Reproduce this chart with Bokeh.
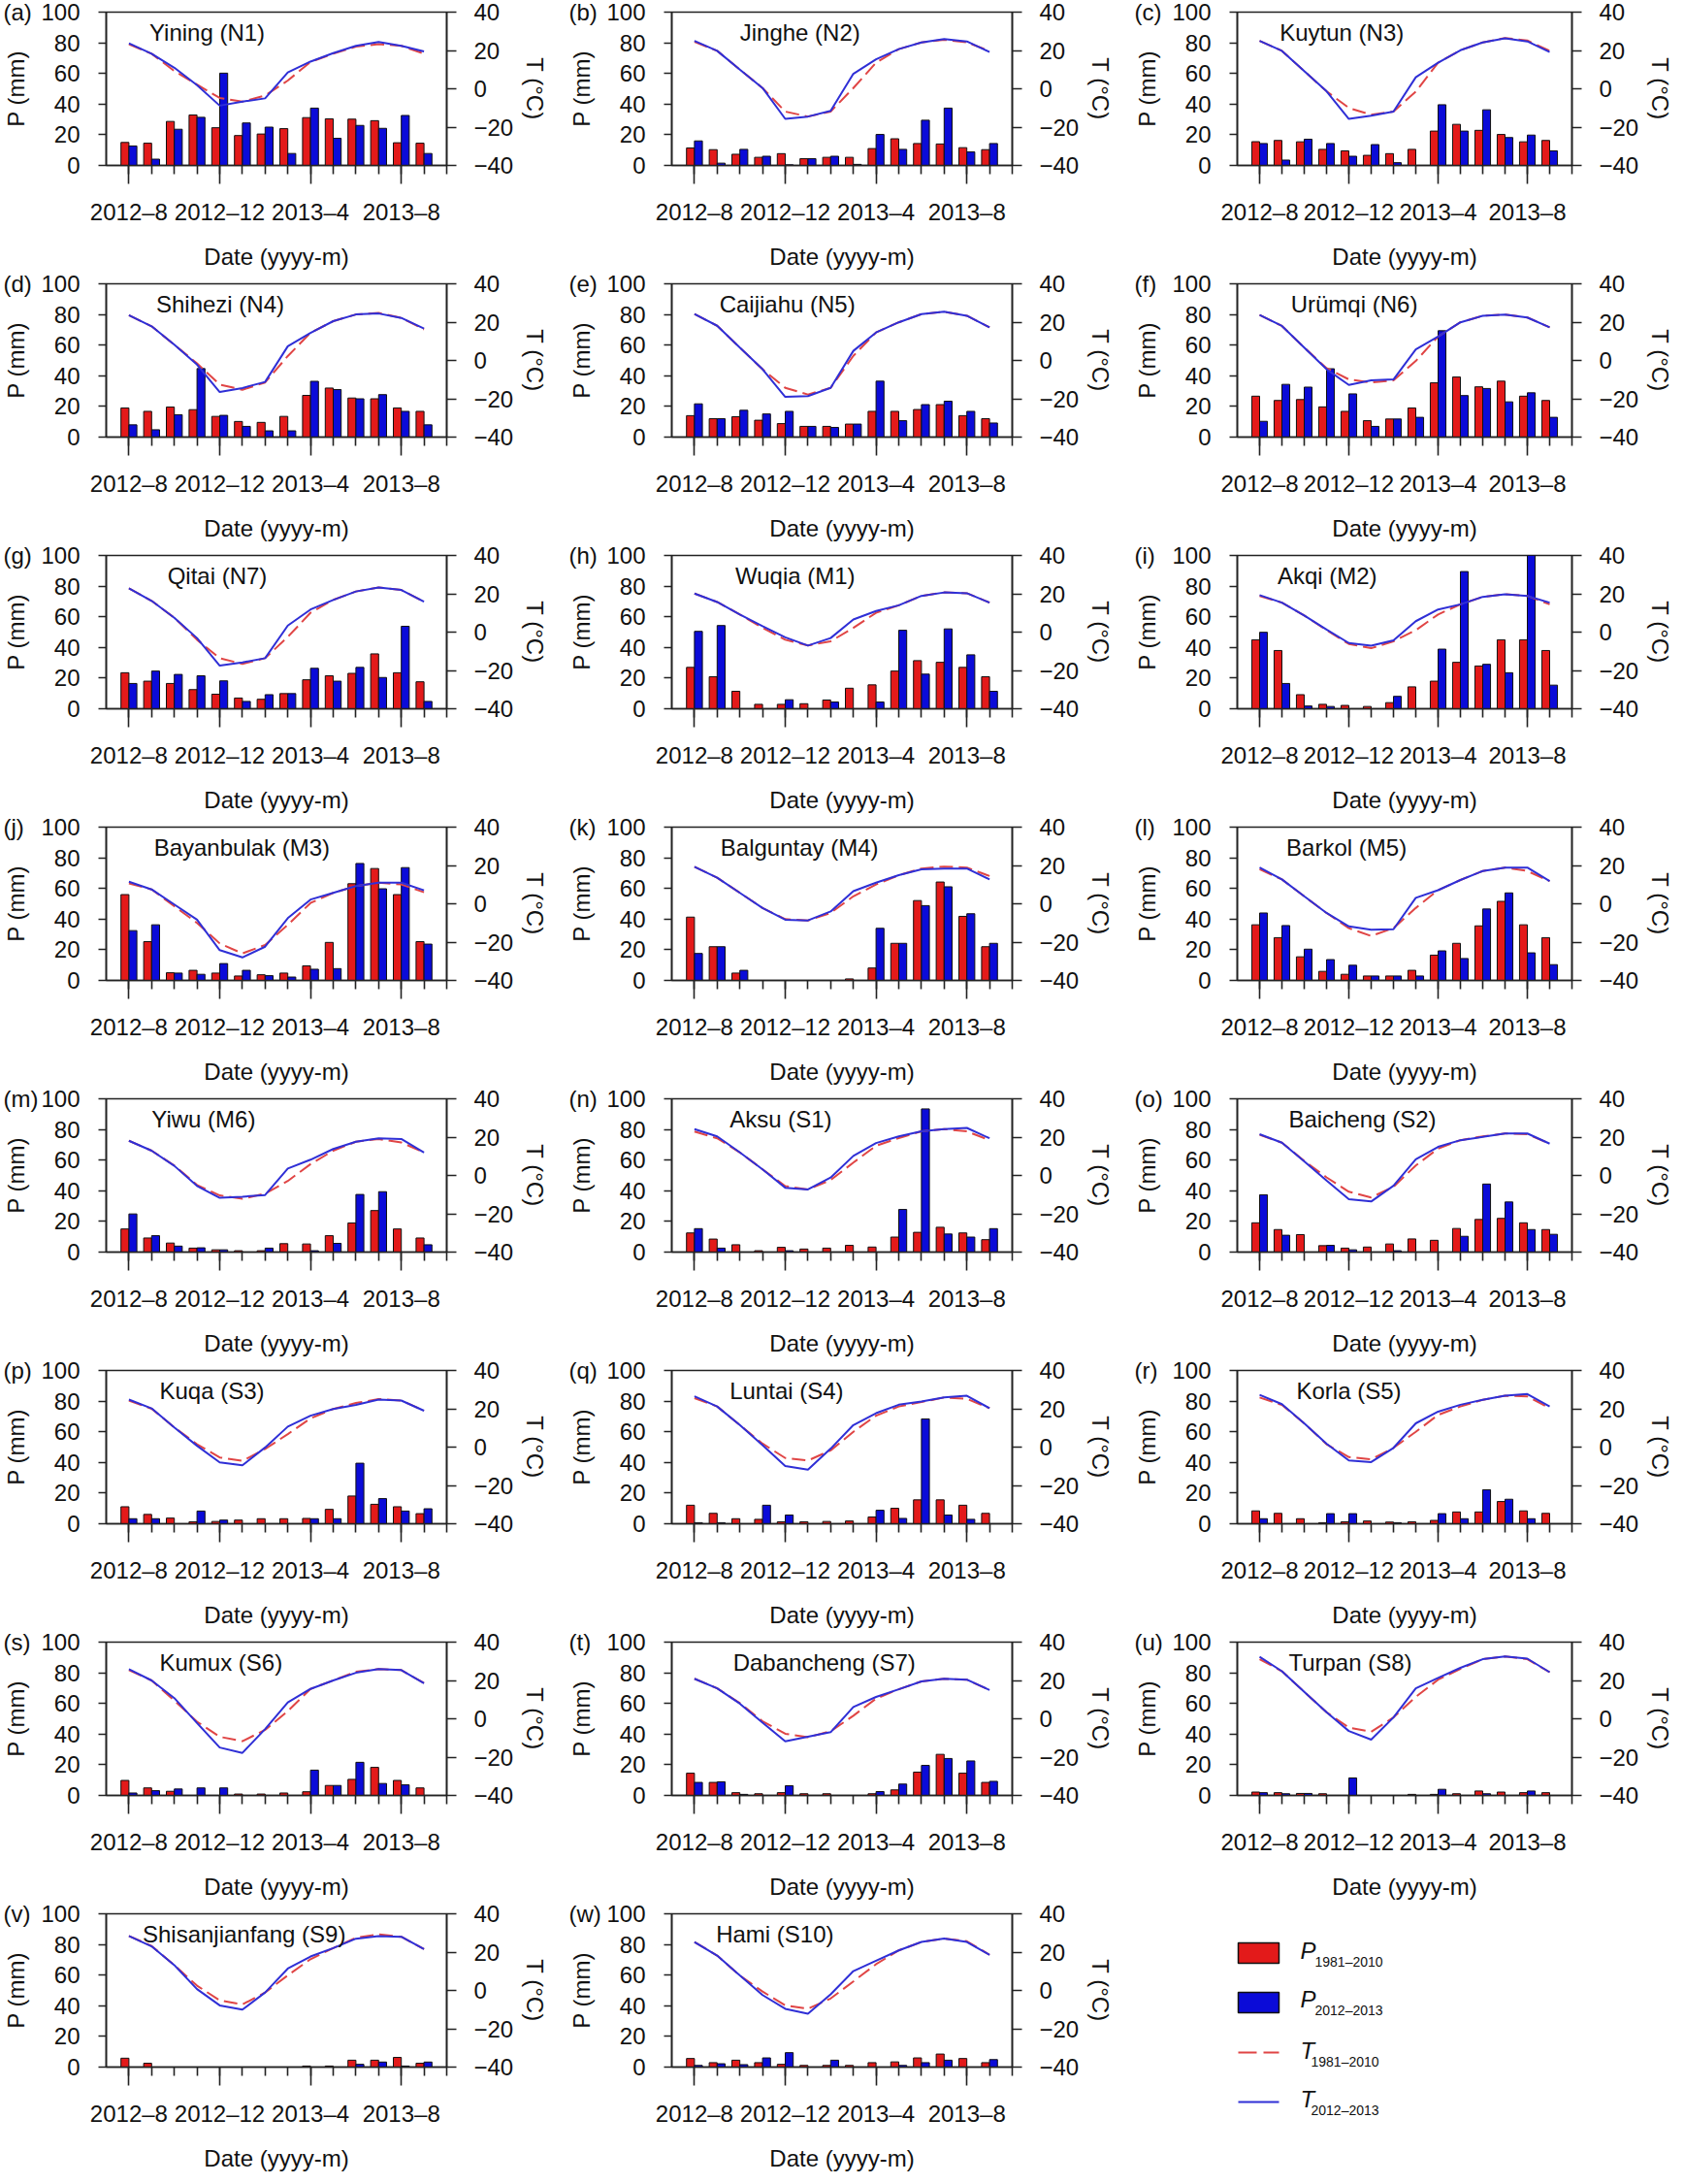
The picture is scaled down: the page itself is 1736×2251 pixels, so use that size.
import math
from bokeh.plotting import figure
from bokeh.models import Range1d, LinearAxis, FixedTicker, ColumnDataSource, Label, Title
from bokeh.layouts import column, row
from bokeh.transform import dodge
from bokeh.embed import file_html
from bokeh.resources import INLINE

# ---------------- data ----------------
STATIONS = ["Yining (N1)", "Jinghe (N2)", "Kuytun (N3)", "Shihezi (N4)", "Caijiahu (N5)",
            "Urümqi (N6)", "Qitai (N7)", "Wuqia (M1)", "Akqi (M2)", "Bayanbulak (M3)",
            "Balguntay (M4)", "Barkol (M5)", "Yiwu (M6)", "Aksu (S1)", "Baicheng (S2)",
            "Kuqa (S3)", "Luntai (S4)", "Korla (S5)", "Kumux (S6)", "Dabancheng (S7)",
            "Turpan (S8)", "Shisanjianfang (S9)", "Hami (S10)"]
LETTERS = list("abcdefghijklmnopqrstuvw")
MONTHS = list(range(14))            # 2012-8 ... 2013-9
TICK_POS = [0, 4, 8, 12]
TICK_LABELS = ["2012–8", "2012–12", "2013–4", "2013–8"]
LEGEND_NAMES = [("P", "1981–2010"), ("P", "2012–2013"), ("T", "1981–2010"), ("T", "2012–2013")]

P_1981 = [
    [15, 14.5, 28.7, 32.9, 24.6, 19.5, 20.5, 24, 31.2, 30.4, 30.2, 29.2, 14.8, 14.5],
    [11.4, 10.3, 7.3, 5.3, 7.7, 4.4, 5.3, 5.3, 11, 17.4, 14.3, 14, 11.6, 10.3],
    [15.5, 16.3, 15.4, 10.5, 9.5, 6.6, 7.7, 10.5, 22.4, 26.8, 22.9, 20.2, 15.4, 16.3],
    [19, 16.8, 19.6, 17.9, 13.5, 10.2, 9.6, 13.5, 27.2, 32, 25.5, 25, 19, 16.8],
    [14, 12, 13.3, 11, 8.8, 7, 7, 8.5, 16.8, 16.8, 18, 21.2, 14, 12],
    [26.7, 23.9, 24.5, 19.7, 16.8, 10.7, 11.8, 19, 35.4, 39.2, 32.8, 36.5, 26.7, 23.9],
    [23.5, 18, 16.5, 12.5, 9.5, 7, 6.2, 9.9, 18.9, 21.5, 23.1, 35.8, 23.5, 17.6],
    [27, 20.9, 11.4, 2.9, 2.9, 3.3, 5.7, 13.4, 15.6, 24.6, 31.4, 30.3, 27, 20.9],
    [45, 38, 9.2, 2.9, 2.2, 1.5, 4, 14.3, 18, 30.3, 27.9, 45, 45, 38],
    [56, 25.3, 5, 6.6, 4.8, 2.9, 3.7, 4.8, 9.5, 24.8, 63.1, 73, 56, 25.3],
    [41.3, 22, 4.8, 0, 0, 0, 0, 1, 8.1, 24.2, 52.1, 64.2, 41.8, 22],
    [36.3, 27.9, 15.4, 5.9, 4, 2.9, 2.9, 6.6, 16.5, 24.2, 35.6, 51.6, 36.3, 27.9],
    [15.1, 9.2, 5.9, 2.6, 1.5, 0.9, 0.9, 5.5, 5.3, 10.7, 19, 27.1, 15.1, 9.2],
    [12.5, 8.5, 4.8, 0.9, 3.1, 2, 2.6, 4.4, 3.3, 9.8, 12.9, 16.2, 12.5, 8.1],
    [19.1, 14.7, 11.4, 4.2, 2.6, 3.3, 5.3, 8.6, 7.7, 15.4, 21.3, 22, 19.1, 14.7],
    [11.1, 6.1, 3.7, 1.3, 1.5, 2.4, 3.3, 3.3, 3.5, 9.4, 18.1, 12.7, 11.1, 6.6],
    [12.1, 6.8, 3.3, 2.9, 1.3, 1.3, 1.5, 1.8, 4.4, 10.1, 15.6, 15.6, 12.1, 6.8],
    [8.4, 6.8, 3.3, 0.7, 1.3, 1.8, 1.1, 1.3, 2.2, 7.7, 7.7, 14.5, 8.4, 6.8],
    [9.8, 4.9, 2.7, 0, 0, 0.9, 0.9, 1.6, 2.4, 6.5, 10.5, 18.3, 9.8, 4.9],
    [14.5, 8.5, 1.8, 1.1, 1.8, 1.1, 1.1, 0, 1.1, 3.6, 15.2, 26.8, 14.5, 8.5],
    [2.2, 1.8, 1.3, 1.1, 0, 0, 0, 0.7, 0.7, 1.1, 2.9, 2.2, 1.8, 1.8],
    [5.8, 2.5, 0, 0, 0, 0, 0, 0, 0.7, 0.7, 4.5, 4.5, 6.3, 2.5],
    [5.6, 2.9, 4.5, 2.9, 1.8, 1.1, 1.1, 1.1, 2.9, 3.4, 6, 8.5, 5.6, 2.9],
]
P_2012 = [
    [12.7, 4.1, 23.6, 31.4, 60.2, 27.7, 25, 7.8, 37.4, 17.7, 26.1, 24.2, 32.6, 7.8],
    [16, 1.5, 10.5, 6, 0.4, 4.4, 6, 0.7, 20.2, 10.5, 29.5, 37.4, 8.8, 14.3],
    [14.3, 3.5, 17.1, 14.3, 6, 13.6, 1.8, 0, 39.6, 22.4, 36.3, 18.2, 19.8, 9.5],
    [8, 4.8, 14.6, 44.7, 14.2, 7, 4.1, 4.1, 36.4, 31, 25, 27.7, 16.8, 8],
    [21.7, 12, 17.5, 15.1, 16.8, 7, 6.3, 8.5, 36.5, 10.7, 21.2, 23.4, 16.8, 9.2],
    [10.3, 34.4, 32.6, 44.6, 28.2, 7, 11.8, 12.9, 69.4, 27.1, 31.7, 23, 28.9, 12.9],
    [16.5, 24.6, 22.4, 21.5, 18.2, 4.8, 9.2, 9.9, 26.4, 18, 27, 20.4, 53.8, 4.8],
    [50.5, 54.3, 0, 0, 5.9, 0, 4.4, 0, 4.4, 51.2, 22.6, 52.1, 35.2, 11.4],
    [49.9, 16.5, 1.8, 1.5, 0, 0, 8.1, 0, 38.9, 89.5, 29, 23.5, 102, 15.4],
    [32.5, 36.3, 4.8, 4, 11, 6.6, 3.1, 2.2, 7.3, 7.7, 76.3, 59.8, 73.6, 23.7],
    [17.6, 22, 6.6, 0, 0, 0, 0, 0, 34, 24.2, 48.8, 61.1, 43.5, 24.2],
    [44, 35.8, 20.4, 13.6, 9.9, 2.9, 2.9, 2.9, 19.3, 14.3, 46.6, 57.1, 18, 10.3],
    [24.9, 10.7, 3.9, 2.8, 1.5, 0, 2.6, 0, 0.9, 5.7, 37.6, 39.4, 0, 4.8],
    [15.3, 2.6, 0, 0, 0.9, 0, 0, 0, 0, 27.8, 93.4, 11.8, 9.8, 15.3],
    [37.4, 11, 0, 4.4, 1.5, 0, 0.9, 0, 0, 10.3, 44.4, 32.7, 14.7, 11.6],
    [3.3, 3.3, 0, 8.3, 2.4, 0, 0, 0, 3.3, 3.3, 39.5, 16.4, 8.3, 9.8],
    [0.7, 0.7, 0, 12.1, 5.7, 0, 0, 0, 8.8, 3.5, 68.4, 5.7, 2.9, 0],
    [3.3, 0, 0, 6.6, 6.6, 0, 0.7, 0, 6.6, 3.3, 22.2, 16, 3.3, 0],
    [1.6, 3.1, 4.2, 4.9, 4.9, 0, 0, 0, 16.5, 6.5, 21.6, 7.8, 6.9, 0],
    [8.5, 8.9, 0.7, 0, 6.3, 0, 0, 0, 2.5, 7.4, 19.6, 24.1, 22.5, 9.2],
    [1.8, 1.1, 1.3, 0, 11.4, 0, 0, 0, 4, 0, 1.1, 0, 2.9, 0],
    [0, 0, 0, 0, 0, 0, 0, 0, 0, 0, 1.8, 3.3, 0.7, 3.3],
    [1.1, 2.2, 1.6, 6, 9.4, 0, 4.5, 0, 0, 1.1, 2.9, 4.5, 0, 4.9],
]
T_1981 = [
    [23.2, 18.3, 9.3, 2.2, -4.8, -6.7, -3.5, 4.3, 14, 18.3, 22, 23.3, 22.4, 18.3],
    [24.5, 19.8, 10, 0.4, -11.9, -14.5, -11.9, 0.4, 13.6, 20.7, 24.2, 25.6, 24.2, 19.8],
    [25, 19.8, 9.2, -1.3, -10, -13.6, -11.9, -1.5, 13.6, 20.1, 24.2, 26.5, 25.2, 19.8],
    [23.6, 17.8, 8.2, -1.5, -12.6, -15.3, -11.5, 2.3, 14.4, 20.5, 24, 24.8, 22.2, 16.2],
    [24.2, 18.1, 6.7, -4.6, -14.3, -17.8, -14.3, 2.4, 14.6, 19.9, 24.2, 25.4, 23.3, 17.3],
    [23.7, 18, 6.7, -4, -9.9, -11.5, -10.4, -0.3, 12.5, 19.9, 23.3, 23.9, 22.4, 17.3],
    [22.8, 16.3, 7.5, -4, -13.6, -16.6, -13.6, -2.5, 10.1, 16.8, 21.2, 23.3, 22, 15.9],
    [20.1, 15.7, 9.2, 2.2, -4, -7, -4.8, 2.2, 10.1, 14, 18.9, 20.7, 20.3, 15.4],
    [18.9, 15.4, 8.7, 1, -6.2, -8.4, -4.8, 1, 9.2, 14.5, 18.4, 19.8, 18.9, 14.5],
    [10.6, 7.5, -1.3, -10, -20.7, -25.9, -21.5, -11, 0.4, 5.7, 9.2, 11, 10.1, 6],
    [19.3, 13.6, 5.7, -2.2, -8, -8.7, -4.8, 3.9, 10.1, 14.9, 18.4, 19.4, 18.9, 14.5],
    [18, 12.7, 3.9, -4.8, -12.7, -16.8, -12.7, -2.2, 7.1, 12.4, 17.1, 18.9, 17.1, 11.8],
    [18.1, 12.9, 5.2, -5, -10.4, -12.2, -9.5, -2.9, 5.9, 12.9, 17.6, 19, 17.2, 12],
    [22.9, 19.4, 12, 3.2, -5.6, -7.3, -2.4, 6.7, 15.5, 19.5, 23, 24.2, 23, 18.4],
    [21.2, 17.1, 7.6, -1, -8.5, -11.5, -5.9, 5.2, 14, 18.4, 20.4, 21.9, 21.5, 16.6],
    [24.3, 20, 10.3, 1.5, -5.4, -7.2, -1, 6.8, 15, 19.9, 23, 25.1, 24.3, 19],
    [25.6, 21.2, 11.5, 1.8, -5.7, -7, -1.7, 8, 16.4, 21.2, 23.5, 25.9, 25.2, 20.3],
    [25.9, 22, 12.4, 1.5, -5.2, -6.4, -0.4, 8, 16.8, 21.2, 24.7, 26.8, 26.5, 20.3],
    [25.4, 20, 9.5, -1.5, -9.4, -11.7, -5.8, 4, 15.6, 20, 24.5, 25.9, 25.4, 18.6],
    [20.9, 15.9, 8.2, -1.3, -7.8, -9.6, -6.5, 1.6, 10.5, 15.4, 19.5, 20.9, 20.4, 15],
    [31.1, 24.8, 14.1, 3.4, -4.6, -6.8, 0.7, 11.4, 20.4, 26, 31.1, 32.5, 31.1, 24.3],
    [28.4, 23.2, 13.2, 2.5, -5.2, -7.3, -1.1, 7.9, 16.3, 22.1, 27.5, 29.3, 28, 21.6],
    [25.3, 18.2, 7.8, -0.6, -7.8, -9.6, -4.2, 4.7, 13.7, 20.9, 25.3, 27.1, 25.7, 18.6],
]
T_2012 = [
    [23.7, 18.3, 11, 1.9, -8.8, -6.7, -5, 8.5, 14.2, 18.6, 22.4, 24.4, 22.4, 19.5],
    [25, 19.8, 10, 0.4, -15.7, -14.5, -11.5, 7.8, 15.4, 20.7, 24.2, 26, 24.7, 19.2],
    [25, 19.8, 9.2, -1.3, -15.7, -14, -11.9, 6, 13.6, 20.1, 24.2, 26.3, 24.7, 19.2],
    [23.6, 17.8, 8.2, -2.2, -16.5, -14.4, -11.2, 7.4, 14.4, 20.5, 24, 24.5, 22.2, 16.6],
    [24.2, 18.1, 6.7, -4.6, -19, -18.6, -14.3, 5, 14.6, 19.9, 24.2, 25.4, 23.3, 17.3],
    [23.7, 18, 6.7, -4.6, -12.8, -10.4, -9.9, 5.8, 12.5, 19.9, 23.3, 23.9, 22.4, 17.3],
    [22.8, 16.3, 7.5, -3.1, -17.5, -15.8, -13.6, 3.4, 11.8, 16.8, 21.2, 23.3, 22, 15.9],
    [20.1, 15.7, 9.2, 3.1, -2.7, -7, -3.1, 6.6, 11, 14, 18.9, 20.7, 20.3, 15.4],
    [19.3, 15.4, 8.7, 1.3, -5.7, -7.1, -4.3, 5.7, 11.8, 14.5, 18.4, 19.8, 18.9, 15.4],
    [11.5, 7.5, -0.4, -8.3, -24.2, -28, -22.4, -7.5, 2.2, 5.7, 9.2, 11, 11, 7],
    [19.3, 13.6, 5.7, -2.2, -8.3, -8.7, -4, 6.6, 11, 14.9, 18, 18.4, 18.4, 12.7],
    [18.9, 12.7, 3.9, -4.8, -11.8, -13.6, -13.3, 3.1, 7.1, 12.4, 17.1, 18.9, 18.9, 11.8],
    [18.1, 12.9, 5, -5.5, -11.7, -11.1, -10.2, 3.6, 8.2, 13.8, 17.6, 19.4, 19, 12],
    [24.2, 20.4, 12, 3.2, -6.4, -7.3, -1.1, 10.2, 16.9, 20.4, 23, 24.2, 24.8, 19.4],
    [21.5, 17.1, 7.3, -2.7, -12.4, -13.6, -5.4, 8.4, 14.9, 18.4, 20.1, 21.9, 21.9, 16.6],
    [24.8, 20.2, 10.3, 0.7, -8, -9.5, -0.2, 10.7, 16.4, 19.9, 22, 24.8, 24.3, 19],
    [26.5, 21.2, 11.5, 1, -9.9, -11.8, -0.8, 11.5, 17.7, 22.1, 23.8, 25.9, 26.8, 20.3],
    [27.3, 22.4, 12.4, 1.8, -7, -7.8, -0.4, 12.4, 18.5, 22.1, 24.7, 26.8, 27.7, 21.2],
    [25.9, 20, 10.8, -2.2, -15, -17.8, -5.4, 8.5, 15.6, 20, 24, 25.9, 25.4, 18.6],
    [20.9, 15.9, 7.9, -2, -11.8, -9.4, -7, 6.1, 11.4, 15.4, 19.5, 20.9, 20.4, 15],
    [32.3, 24.8, 14.1, 3.4, -6.4, -10.9, 0.7, 15.9, 21.3, 26.6, 31.1, 32.5, 31.4, 24.3],
    [28.4, 23, 13.2, 0.7, -7.8, -10, -1.1, 11.4, 17.7, 22.1, 27, 28.4, 28, 21.6],
    [25.3, 18.2, 7.8, -2.4, -9.6, -12.2, -2, 10.1, 15.5, 20.9, 25.3, 27.1, 25.3, 18.6],
]
# left edge of each station name, in months after 2012-8 (layout only)
TITLE_X = [0.9, 2.0, 0.9, 1.2, 1.1, 1.4, 1.7, 1.8, 0.8, 1.1, 1.15, 1.2, 1.0, 1.55,
           1.3, 1.35, 1.55, 1.65, 1.35, 1.7, 1.3, 0.6, 0.95]

# ---------------- style ----------------
FONT = "Liberation Sans"
FS = "24px"
TXT = "#111111"
AXC = "#222222"
RED_BAR = "#e31a1a"
BLUE_BAR = "#0b0bd8"
RED_LINE = "#e04545"
BLUE_LINE = "#2f2fd6"
COL_W = [583, 583, 562]
ROW_H = 280
LEFT, FRAME_W, TOP, BOTTOM = 106, 354, 12, 106


def style_axis(ax):
    ax.axis_line_color = AXC
    ax.axis_line_width = 1.6
    ax.major_tick_line_color = AXC
    ax.major_tick_line_width = 1.6
    ax.minor_tick_line_color = AXC
    ax.minor_tick_line_width = 1.6
    ax.major_tick_in = 0
    ax.minor_tick_in = 0
    ax.major_label_text_font = FONT
    ax.major_label_text_font_size = FS
    ax.major_label_text_color = TXT
    ax.axis_label_text_font = FONT
    ax.axis_label_text_font_size = FS
    ax.axis_label_text_font_style = "normal"
    ax.axis_label_text_color = TXT


def lab(p, **kw):
    kw.setdefault("text_font", FONT)
    kw.setdefault("text_font_size", FS)
    kw.setdefault("text_color", TXT)
    p.add_layout(Label(**kw))


def panel(i, col):
    w = COL_W[col]
    p = figure(width=w, height=ROW_H, x_range=Range1d(-1, 14), y_range=Range1d(0, 100),
               output_backend="svg", toolbar_location=None, title=None,
               min_border_left=LEFT, min_border_right=w - LEFT - FRAME_W,
               min_border_top=TOP, min_border_bottom=BOTTOM)
    p.extra_y_ranges = {"T": Range1d(-40, 40)}
    p.xgrid.visible = False
    p.ygrid.visible = False
    p.outline_line_color = AXC
    p.outline_line_width = 1.6
    p.background_fill_color = "white"
    p.border_fill_color = "white"

    xa = p.xaxis[0]
    style_axis(xa)
    xa.ticker = FixedTicker(ticks=TICK_POS, minor_ticks=list(range(0, 15)))
    xa.major_label_overrides = {t: s for t, s in zip(TICK_POS, TICK_LABELS)}
    xa.major_tick_out = 19
    xa.minor_tick_out = 9
    xa.major_label_standoff = 15
    xa.axis_label = "Date (yyyy-m)"
    xa.axis_label_standoff = 16

    ya = p.yaxis[0]
    style_axis(ya)
    ya.ticker = FixedTicker(ticks=[0, 20, 40, 60, 80, 100])
    ya.major_tick_out = 8
    ya.major_label_standoff = 19
    ya.minor_tick_line_color = None
    ya.axis_label = "P (mm)"
    ya.axis_label_standoff = 9

    ra = LinearAxis(y_range_name="T", ticker=FixedTicker(ticks=[-40, -20, 0, 20, 40]))
    style_axis(ra)
    ra.major_label_overrides = {-40: "−40", -20: "−20", 0: "0", 20: "20", 40: "40"}
    ra.major_tick_out = 10
    ra.major_label_standoff = 18
    ra.minor_tick_line_color = None
    ra.axis_label = "T (°C)"
    ra.axis_label_standoff = 6
    p.add_layout(ra, "right")

    # panel letter, drawn level with the top of the frame
    p.add_layout(Title(text="(%s)" % LETTERS[i], align="left", offset=-LEFT,
                       standoff=-27, vertical_align="bottom", text_font=FONT,
                       text_font_size=FS, text_font_style="normal", text_color=TXT),
                 "above")

    src = ColumnDataSource(dict(m=MONTHS, p81=P_1981[i], p12=P_2012[i],
                                t81=T_1981[i], t12=T_2012[i]))
    p.vbar(x=dodge("m", -0.175, range=p.x_range), top="p81", width=0.35, bottom=0,
           source=src, fill_color=RED_BAR, line_color="#111111", line_width=1)
    p.vbar(x=dodge("m", 0.175, range=p.x_range), top="p12", width=0.35, bottom=0,
           source=src, fill_color=BLUE_BAR, line_color="#111111", line_width=1)
    p.line("m", "t81", source=src, y_range_name="T", line_color=RED_LINE,
           line_width=2, line_dash="14 6")
    p.line("m", "t12", source=src, y_range_name="T", line_color=BLUE_LINE,
           line_width=2)

    lab(p, x=TITLE_X[i], y=86.5, text=STATIONS[i],
        text_align="left", text_baseline="middle")
    return p


def legend_fig(w):
    p = figure(width=w, height=ROW_H, x_range=Range1d(0, w), y_range=Range1d(ROW_H, 0),
               x_axis_type=None, y_axis_type=None, output_backend="svg",
               toolbar_location=None, title=None, min_border=0)
    if "frame_align" in p.properties():
        p.frame_align = False
    p.outline_line_color = None
    p.background_fill_color = "white"
    p.border_fill_color = "white"
    dx, dy = 6, 8
    x0, x1 = 104 + dx, 146 + dx
    p.quad(left=[x0], right=[x1], top=[34 + dy], bottom=[55 + dy], fill_color=RED_BAR,
           line_color="#111111", line_width=1.5)
    p.quad(left=[x0], right=[x1], top=[85 + dy], bottom=[106 + dy], fill_color=BLUE_BAR,
           line_color="#111111", line_width=1.5)
    p.line(x=[x0, x1], y=[147 + dy, 147 + dy], line_color=RED_LINE, line_width=2,
           line_dash="19 7")
    p.line(x=[x0, x1], y=[198 + dy, 198 + dy], line_color=BLUE_LINE, line_width=2)
    rows_y = [42, 92, 145, 195]
    sub_x = [183, 183, 179, 179]
    for (big, sub), yc, xs in zip(LEGEND_NAMES, rows_y, sub_x):
        lab(p, x=168 + dx, y=yc + dy, text=big, text_align="left",
            text_baseline="middle", text_font_style="italic")
        lab(p, x=xs + dx, y=yc + dy + 11, text=sub, text_align="left",
            text_baseline="middle", text_font_size="14px")
    return p


rows = []
idx = 0
for r in range(8):
    figs = []
    for c in range(3):
        if idx < len(STATIONS):
            figs.append(panel(idx, c))
            idx += 1
        else:
            figs.append(legend_fig(COL_W[c]))
    rows.append(row(*figs))

layout = column(*rows)
open("out.html", "w").write(file_html(layout, INLINE, "Xinjiang P and T"))
